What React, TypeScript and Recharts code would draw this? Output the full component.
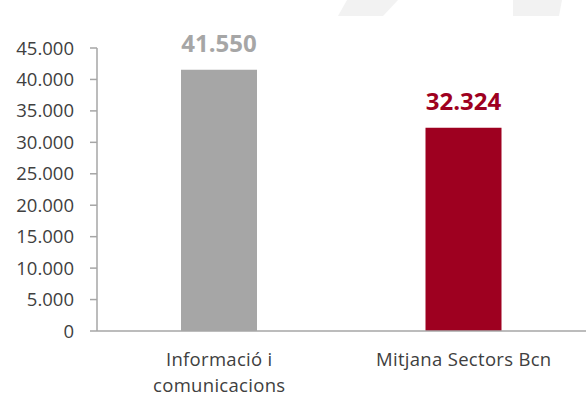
import { BarChart, Bar, XAxis, YAxis, Cell, LabelList } from 'recharts';

const categories = ['Informació i\ncomunicacions', 'Mitjana Sectors Bcn'];
const salaries = [41550, 32324];
const barColors = ['#A6A6A6', '#9E0020'];
const yTicks = [0, 5000, 10000, 15000, 20000, 25000, 30000, 35000, 40000, 45000];

const data = categories.map((name, i) => ({ name, value: salaries[i], color: barColors[i] }));

const fmt = (v: number) => String(v).replace(/\B(?=(\d{3})+(?!\d))/g, '.');

const FONT = '"Open Sans", sans-serif';

function CategoryTick({ x, y, payload }: any) {
  const lines = String(payload.value).split('\n');
  return (
    <g>
      {lines.map((l, i) => (
        <text
          key={i}
          x={x}
          y={y + 27 + i * 25.5}
          textAnchor="middle"
          fill="#404040"
          fontSize={18.5}
          fontFamily={FONT}
          letterSpacing={0.3}
        >
          {l}
        </text>
      ))}
    </g>
  );
}

function ValueLabel({ x, y, width, value, index }: any) {
  return (
    <text
      x={x + width / 2}
      y={y - 27}
      textAnchor="middle"
      dominantBaseline="central"
      fill={barColors[index]}
      fontSize={24}
      fontWeight="bold"
      fontFamily={FONT}
    >
      {fmt(value)}
    </text>
  );
}

export default function App() {
  return (
    <div style={{ position: 'absolute', left: 0, top: 0, width: 586, height: 400, background: '#fff' }}>
      <svg width={586} height={400} style={{ position: 'absolute', left: 0, top: 0 }}>
        <polygon points="347,0 398,0 383,16 338,16" fill="#F2F2F2" />
        <polygon points="513,0 562,0 559,16 513,16" fill="#F2F2F2" />
      </svg>
      <div style={{ position: 'absolute', left: 0, top: 0 }}>
        <BarChart width={586} height={400} data={data} margin={{ top: 48, right: 0, bottom: 68, left: 0 }}>
          <XAxis
            dataKey="name"
            axisLine={{ stroke: '#A6A6A6', strokeWidth: 1.5 }}
            tickLine={false}
            tick={<CategoryTick />}
            interval={0}
            height={1}
          />
          <YAxis
            width={97}
            domain={[0, 45000]}
            ticks={yTicks}
            interval={0}
            tickFormatter={fmt}
            axisLine={{ stroke: '#A6A6A6', strokeWidth: 1.5 }}
            tickLine={{ stroke: '#A6A6A6', strokeWidth: 1.5 }}
            tickSize={7}
            tickMargin={16}
            tick={{ fill: '#404040', fontSize: 18.5, fontFamily: FONT }}
          />
          <Bar dataKey="value" barSize={76} isAnimationActive={false}>
            {data.map((d, i) => (
              <Cell key={i} fill={d.color} />
            ))}
            <LabelList dataKey="value" content={<ValueLabel />} />
          </Bar>
        </BarChart>
      </div>
    </div>
  );
}
